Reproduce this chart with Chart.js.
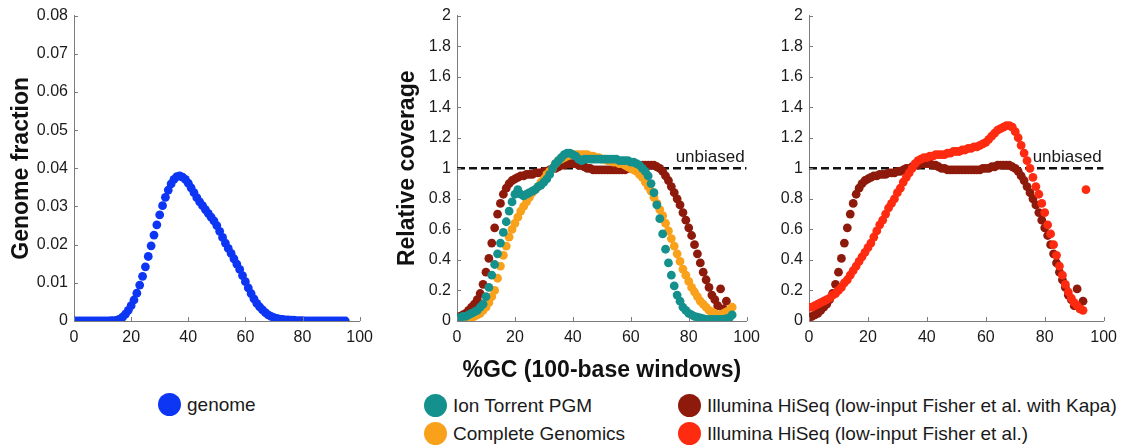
<!DOCTYPE html>
<html>
<head>
<meta charset="utf-8">
<script src="https://cdn.jsdelivr.net/npm/chart.js@4.4.1/dist/chart.umd.min.js"></script>
<style>
  body { margin: 0; background: #fff; width: 1124px; height: 447px; overflow: hidden; position: relative;
         font-family: "Liberation Sans", Arial, Helvetica, sans-serif; }
  canvas { position: absolute; top: 0; }
  .leg { position: absolute; font-size: 19px; line-height: 23px; color: #1a1a1a; white-space: nowrap; }
  .leg .dot { display: inline-block; width: 23px; height: 23px; border-radius: 50%; vertical-align: top; margin-right: 6px; }
</style>
</head>
<body>
<canvas id="genomeChart" width="380" height="350" style="left:0px"></canvas>
<canvas id="platformChart" width="381" height="384" style="left:386px"></canvas>
<canvas id="illuminaChart" width="354" height="350" style="left:770px"></canvas>

<div class="leg" style="left:158px;top:393px"><span class="dot" style="background:#0d36f4"></span>genome</div>
<div class="leg" style="left:424px;top:394px"><span class="dot" style="background:#15918d"></span>Ion Torrent PGM</div>
<div class="leg" style="left:424px;top:422px"><span class="dot" style="background:#f9a11b"></span>Complete Genomics</div>
<div class="leg" style="left:678px;top:394px"><span class="dot" style="background:#8e1a0c"></span>Illumina HiSeq (low-input Fisher et al. with Kapa)</div>
<div class="leg" style="left:678px;top:422px"><span class="dot" style="background:#ff2b10"></span>Illumina HiSeq (low-input Fisher et al.)</div>

<script>
// --- data ---
const gcPercent = [
  0, 1, 2, 3, 4, 5, 6, 7, 8, 9,
  10, 11, 12, 13, 14, 15, 16, 17, 18, 19,
  20, 21, 22, 23, 24, 25, 26, 27, 28, 29,
  30, 31, 32, 33, 34, 35, 36, 37, 38, 39,
  40, 41, 42, 43, 44, 45, 46, 47, 48, 49,
  50, 51, 52, 53, 54, 55, 56, 57, 58, 59,
  60, 61, 62, 63, 64, 65, 66, 67, 68, 69,
  70, 71, 72, 73, 74, 75, 76, 77, 78, 79,
  80, 81, 82, 83, 84, 85, 86, 87, 88, 89,
  90, 91, 92, 93, 94, 95
];

const genomeFraction = [
  0, 0, 0, 0, 0, 0, 0, 0, 0, 0,
  0, 0, 0, 0.0001, 0.0001, 0.0002, 0.0005, 0.0010, 0.0018, 0.0028,
  0.0040, 0.0055, 0.0073, 0.0094, 0.0117, 0.0142, 0.0169, 0.0197, 0.0225, 0.0252,
  0.0278, 0.0302, 0.0324, 0.0343, 0.0359, 0.0371, 0.0378, 0.0380, 0.0377, 0.0371,
  0.0361, 0.0349, 0.0336, 0.0323, 0.0312, 0.0302, 0.0292, 0.0282, 0.0272, 0.0262,
  0.0250, 0.0235, 0.0219, 0.0204, 0.0190, 0.0177, 0.0163, 0.0149, 0.0135, 0.0119,
  0.0103, 0.0087, 0.0072, 0.0058, 0.0046, 0.0037, 0.0029, 0.0022, 0.0016, 0.0012,
  0.0009, 0.0007, 0.0005, 0.0004, 0.0003, 0.0003, 0.0002, 0.0002, 0.0001, 0.0001,
  0.0001, 0, 0, 0, 0, 0, 0, 0, 0, 0,
  0, 0, 0, 0, 0, 0
];

const ionTorrent = [
  0.02, 0.02, 0.03, 0.03, 0.04, 0.05, 0.06, 0.07, 0.09, 0.11,
  0.16, 0.22, 0.30, 0.37, 0.44, 0.51, 0.58, 0.65, 0.72, 0.78,
  0.83, 0.86, 0.83, 0.82, 0.83, 0.84, 0.85, 0.86, 0.88, 0.89,
  0.91, 0.93, 0.96, 1.00, 1.03, 1.05, 1.07, 1.09, 1.10, 1.10,
  1.09, 1.08, 1.06, 1.05, 1.06, 1.06, 1.06, 1.06, 1.06, 1.06,
  1.06, 1.06, 1.06, 1.06, 1.06, 1.06, 1.05, 1.05, 1.05, 1.05,
  1.04, 1.04, 1.03, 1.02, 1.00, 0.98, 0.95, 0.90, 0.84, 0.76,
  0.67, 0.57, 0.47, 0.38, 0.30, 0.23, 0.17, 0.13, 0.09, 0.07,
  0.05, 0.04, 0.03, 0.025, 0.02, 0.015, 0.01, 0.01, 0.01, 0.01,
  0.01, 0.01, 0.01, 0.015, 0.02, 0.04
];

const completeGenomics = [
  0.00, 0.00, 0.01, 0.01, 0.02, 0.02, 0.03, 0.04, 0.05, 0.07,
  0.09, 0.12, 0.16, 0.20, 0.28, 0.36, 0.43, 0.49, 0.55, 0.60,
  0.64, 0.68, 0.72, 0.75, 0.78, 0.81, 0.84, 0.86, 0.88, 0.91,
  0.93, 0.96, 0.98, 1.00, 1.03, 1.05, 1.06, 1.07, 1.08, 1.09,
  1.09, 1.09, 1.09, 1.09, 1.09, 1.09, 1.08, 1.08, 1.07, 1.07,
  1.06, 1.06, 1.05, 1.05, 1.04, 1.04, 1.03, 1.03, 1.02, 1.01,
  1.00, 0.99, 0.98, 0.96, 0.94, 0.91, 0.88, 0.85, 0.81, 0.77,
  0.73, 0.69, 0.64, 0.59, 0.54, 0.49, 0.44, 0.39, 0.34, 0.30,
  0.26, 0.22, 0.19, 0.16, 0.13, 0.11, 0.09, 0.07, 0.06, 0.05,
  0.04, 0.04, 0.05, 0.06, 0.07, 0.09
];

const hiseqKapa = [
  0.02, 0.03, 0.04, 0.05, 0.07, 0.09, 0.11, 0.14, 0.18, 0.24,
  0.32, 0.41, 0.51, 0.61, 0.70, 0.77, 0.83, 0.87, 0.90, 0.92,
  0.93, 0.94, 0.95, 0.95, 0.96, 0.96, 0.96, 0.97, 0.97, 0.97,
  0.98, 0.98, 0.99, 1.00, 1.00, 1.01, 1.02, 1.02, 1.03, 1.03,
  1.03, 1.03, 1.02, 1.02, 1.01, 1.00, 1.00, 0.99, 0.99, 0.99,
  0.99, 0.99, 0.99, 0.99, 0.99, 0.99, 0.99, 0.99, 0.99, 1.00,
  1.00, 1.00, 1.01, 1.01, 1.02, 1.02, 1.02, 1.02, 1.02, 1.01,
  1.00, 0.98, 0.95, 0.92, 0.88, 0.84, 0.80, 0.76, 0.71, 0.66,
  0.61, 0.56, 0.50, 0.44, 0.38, 0.32, 0.27, 0.22, 0.17, 0.14,
  0.10, 0.21, 0.08, 0.13
];

const hiseqFisher = [
  0.09, 0.09, 0.10, 0.11, 0.12, 0.13, 0.14, 0.15, 0.17, 0.18,
  0.20, 0.22, 0.25, 0.27, 0.30, 0.33, 0.36, 0.39, 0.42, 0.45,
  0.48, 0.51, 0.55, 0.59, 0.63, 0.66, 0.70, 0.74, 0.77, 0.80,
  0.84, 0.87, 0.91, 0.94, 0.97, 1.00, 1.03, 1.05, 1.06, 1.07,
  1.07, 1.08, 1.08, 1.09, 1.09, 1.09, 1.09, 1.10, 1.10, 1.11,
  1.11, 1.11, 1.12, 1.12, 1.13, 1.13, 1.14, 1.14, 1.15, 1.16,
  1.17, 1.19, 1.21, 1.23, 1.25, 1.26, 1.27, 1.28, 1.28, 1.27,
  1.24, 1.20, 1.15, 1.10, 1.05, 1.00, 0.94, 0.88, 0.83, 0.77,
  0.71, 0.63, 0.57, 0.50, 0.43, 0.36, 0.30, 0.24, 0.19, 0.15,
  0.12, 0.10, 0.08, 0.07, 0.86
];

// unbiased reference line (x from 0 to 100 at y = 1)
const unbiasedX = [0, 100];
const unbiasedY = [1, 1];
const unbiasedLabel = 'unbiased';

const xTicks = [0, 20, 40, 60, 80, 100];

// --- helpers ---
const FONT = '"Liberation Sans", Arial, Helvetica, sans-serif';
const AXIS_COLOR = '#7c7c7c';
const TEXT_COLOR = '#1a1a1a';

function toPoints(values) {
    return values.map((v, i) => ({ x: gcPercent[i], y: v }));
}

function dotSet(label, values, color) {
    return {
        label: label,
        data: toPoints(values),
        showLine: false,
        pointRadius: 4.4,
        pointHoverRadius: 4.4,
        pointBorderWidth: 0,
        pointBackgroundColor: color,
        borderColor: color
    };
}

function unbiasedSet() {
    return {
        label: unbiasedLabel,
        data: unbiasedX.map((x, i) => ({ x: x, y: unbiasedY[i] })),
        showLine: true,
        borderColor: '#111',
        borderWidth: 2.4,
        borderDash: [8, 4],
        pointRadius: 0
    };
}

// small tick marks pointing into the plot, like the original figure
const inwardTicks = {
    id: 'inwardTicks',
    afterDatasetsDraw(chart) {
        const { ctx, chartArea, scales } = chart;
        ctx.save();
        ctx.strokeStyle = AXIS_COLOR;
        ctx.lineWidth = 1;
        ctx.beginPath();
        scales.x.ticks.forEach(t => {
            const px = Math.round(scales.x.getPixelForValue(t.value)) + 0.5;
            ctx.moveTo(px, chartArea.bottom);
            ctx.lineTo(px, chartArea.bottom - 4);
        });
        scales.y.ticks.forEach(t => {
            const py = Math.round(scales.y.getPixelForValue(t.value)) + 0.5;
            ctx.moveTo(chartArea.left, py);
            ctx.lineTo(chartArea.left + 4, py);
        });
        ctx.stroke();
        ctx.restore();
    }
};

// "unbiased" text above the dashed line
const unbiasedText = {
    id: 'unbiasedText',
    afterDatasetsDraw(chart) {
        const { ctx, chartArea, scales } = chart;
        ctx.save();
        ctx.font = '17px ' + FONT;
        ctx.fillStyle = TEXT_COLOR;
        ctx.textAlign = 'right';
        ctx.textBaseline = 'alphabetic';
        ctx.fillText(unbiasedLabel, chartArea.right - 2, scales.y.getPixelForValue(unbiasedY[0]) - 6);
        ctx.restore();
    }
};

function xScale(fixedHeight, title) {
    return {
        type: 'linear',
        min: 0,
        max: 100,
        afterBuildTicks: s => { s.ticks = xTicks.map(v => ({ value: v })); },
        ticks: { color: TEXT_COLOR, font: { family: FONT, size: 16 }, padding: 7, maxRotation: 0 },
        grid: { drawOnChartArea: false, drawTicks: false },
        border: { display: true, color: AXIS_COLOR, width: 1 },
        title: title ? {
            display: true,
            text: title,
            color: '#111',
            font: { family: FONT, size: 23, weight: 'bold' },
            padding: { top: 0, bottom: 0 }
        } : { display: false },
        afterFit: s => { s.height = fixedHeight; }
    };
}

function yScale(max, step, fmt, fixedWidth, title) {
    return {
        type: 'linear',
        min: 0,
        max: max,
        ticks: {
            stepSize: step,
            color: TEXT_COLOR,
            font: { family: FONT, size: 16 },
            padding: 6,
            callback: fmt
        },
        grid: { drawOnChartArea: false, drawTicks: false },
        border: { display: true, color: AXIS_COLOR, width: 1 },
        title: title ? {
            display: true,
            text: title,
            color: '#111',
            font: { family: FONT, size: 23, weight: 'bold' },
            padding: { top: 8, bottom: 0 }
        } : { display: false },
        afterFit: s => { s.width = fixedWidth; }
    };
}

const fracFmt = v => (v === 0 ? '0' : v.toFixed(2));
const covFmt = v => {
    const r = Math.round(v * 10) / 10;
    return Number.isInteger(r) ? String(r) : r.toFixed(1);
};

function baseOptions(padRight, xs, ys) {
    return {
        responsive: false,
        animation: false,
        layout: { padding: { top: 13, right: padRight, left: 0, bottom: 0 } },
        plugins: { legend: { display: false }, tooltip: { enabled: false } },
        scales: { x: xs, y: ys }
    };
}

// --- 1. Genome fraction ---
new Chart(document.getElementById('genomeChart'), {
    type: 'scatter',
    data: { datasets: [dotSet('genome', genomeFraction, '#0d36f4')] },
    options: baseOptions(13, xScale(29), yScale(0.08, 0.01, fracFmt, 74, 'Genome fraction')),
    plugins: [inwardTicks]
});

// --- 2. Ion Torrent / Complete Genomics / HiSeq Kapa ---
new Chart(document.getElementById('platformChart'), {
    type: 'scatter',
    data: {
        datasets: [
            dotSet('Ion Torrent PGM', ionTorrent, '#15918d'),
            dotSet('Complete Genomics', completeGenomics, '#f9a11b'),
            dotSet('Illumina HiSeq (low-input Fisher et al. with Kapa)', hiseqKapa, '#8e1a0c'),
            unbiasedSet()
        ]
    },
    options: baseOptions(10, xScale(63, '%GC (100-base windows)'), yScale(2, 0.2, covFmt, 71, 'Relative coverage')),
    plugins: [inwardTicks, unbiasedText]
});

// --- 3. HiSeq Fisher vs Kapa ---
new Chart(document.getElementById('illuminaChart'), {
    type: 'scatter',
    data: {
        datasets: [
            dotSet('Illumina HiSeq (low-input Fisher et al.)', hiseqFisher, '#ff2b10'),
            dotSet('Illumina HiSeq (low-input Fisher et al. with Kapa)', hiseqKapa, '#8e1a0c'),
            unbiasedSet()
        ]
    },
    options: baseOptions(16, xScale(29), yScale(2, 0.2, covFmt, 39)),
    plugins: [inwardTicks, unbiasedText]
});
</script>
</body>
</html>
